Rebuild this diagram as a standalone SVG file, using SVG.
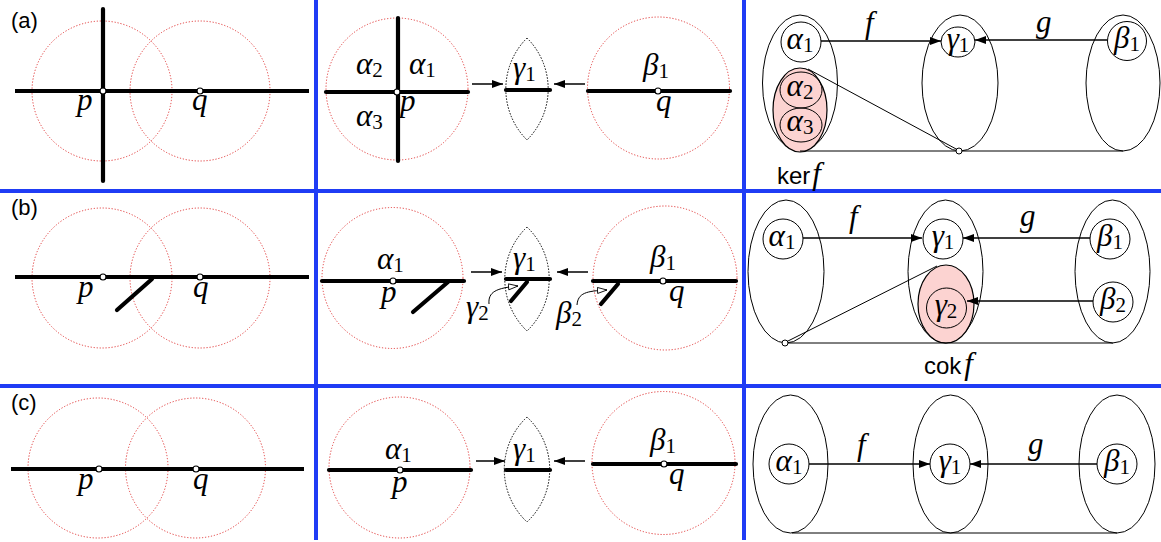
<svg xmlns="http://www.w3.org/2000/svg" width="1161" height="542" viewBox="0 0 1161 542">
<style>
.sep{stroke:#1f3cf5;stroke-width:4;fill:none}
.rc{fill:none;stroke:#e23a3a;stroke-width:1;stroke-dasharray:1.2 1.8}
.lens{fill:none;stroke:#000;stroke-width:1;stroke-dasharray:1.5 1.5}
.thick{stroke:#000;stroke-width:4.2;stroke-linecap:round;fill:none}
.pt{fill:#fff;stroke:#000;stroke-width:1.2}
.ar{stroke:#000;stroke-width:1.5;fill:none}
.thin{stroke:#000;stroke-width:1;fill:none}
.ell{fill:none;stroke:#000;stroke-width:1}
.pink{fill:#fcd3d1;stroke:#000;stroke-width:1.2}
.m{font-family:"Liberation Serif",serif;font-style:italic;font-size:31px;fill:#000}
.mr{font-family:"Liberation Serif",serif;font-style:italic;font-size:31px;fill:#000}
.s{font-style:normal;font-size:21px}
.lab{font-family:"Liberation Sans",Arial,sans-serif;font-size:22px;fill:#000}
.sans{font-family:"Liberation Sans",Arial,sans-serif;font-size:24px;fill:#000}
</style>
<defs>
<marker id="ah" markerUnits="userSpaceOnUse" markerWidth="12" markerHeight="8" refX="11" refY="4" orient="auto"><path d="M0,0 L11,4 L0,8 z" fill="#000"/></marker>
<marker id="ao" markerUnits="userSpaceOnUse" markerWidth="11" markerHeight="8" refX="10" refY="3.5" orient="auto"><path d="M0.5,0.5 L10,3.5 L0.5,6.5 z" fill="#fff" stroke="#000" stroke-width="0.9"/></marker>
</defs>

<g id="separators">
<line class="sep" x1="316" y1="0" x2="316" y2="540"/>
<line class="sep" x1="744" y1="0" x2="744" y2="540"/>
<line class="sep" x1="0" y1="191" x2="1161" y2="191"/>
<line class="sep" x1="0" y1="386" x2="1161" y2="386"/>
</g>

<!-- Row (a) -->
<g id="a-left">
<text class="lab" x="11" y="28">(a)</text>
<circle class="rc" cx="102" cy="91" r="70"/>
<circle class="rc" cx="200" cy="91" r="70"/>
<line class="thick" x1="15" y1="91" x2="309" y2="91" style="stroke-linecap:butt"/>
<line class="thick" x1="103" y1="9" x2="103" y2="181"/>
<circle class="pt" cx="103" cy="91" r="3"/>
<circle class="pt" cx="200" cy="91" r="3"/>
<text class="m" x="77" y="110">p</text>
<text class="m" x="192" y="110">q</text>
</g>

<g id="a-mid-alpha">
<circle class="rc" cx="397" cy="89" r="71"/>
<line class="thick" x1="326" y1="92" x2="468" y2="92"/>
<line class="thick" x1="398" y1="18" x2="398" y2="161"/>
<circle class="pt" cx="397" cy="92" r="3"/>
<text class="m" x="356" y="74">α<tspan class="s" dy="3">2</tspan></text>
<text class="m" x="409" y="74">α<tspan class="s" dy="3">1</tspan></text>
<text class="m" x="356" y="126">α<tspan class="s" dy="3">3</tspan></text>
<text class="m" x="400" y="111">p</text>
</g>
<g id="a-mid-gamma">
<path class="lens" d="M527,38 A72,72 0 0 0 527,140 A72,72 0 0 0 527,38 z"/>
<line class="thick" x1="506" y1="90" x2="550" y2="90"/>
<text class="m" x="513" y="78">γ<tspan class="s" dy="3">1</tspan></text>
</g>
<g id="a-mid-beta">
<circle class="rc" cx="658.5" cy="88" r="71"/>
<line class="thick" x1="588" y1="91" x2="730" y2="91"/>
<circle class="pt" cx="658" cy="91" r="3"/>
<text class="m" x="643" y="75">β<tspan class="s" dy="3">1</tspan></text>
<text class="m" x="656" y="111">q</text>
</g>

<g id="a-right-A">
<ellipse class="ell" cx="800" cy="83" rx="37.5" ry="68"/>
<circle class="ell" cx="801" cy="42" r="20"/>
<text class="mr" x="800" y="49" text-anchor="middle">α<tspan class="s" dy="3">1</tspan></text>
<ellipse class="pink" cx="800" cy="110" rx="27" ry="42"/>
<ellipse class="ell" cx="801" cy="90" rx="21" ry="18"/>
<ellipse class="ell" cx="801" cy="125" rx="21" ry="17"/>
<text class="mr" x="800" y="96" text-anchor="middle">α<tspan class="s" dy="3">2</tspan></text>
<text class="mr" x="800" y="131" text-anchor="middle">α<tspan class="s" dy="3">3</tspan></text>
<text class="sans" x="777" y="184">ker<tspan class="mr" dx="2">f</tspan></text>
</g>
<g id="a-right-C">
<ellipse class="ell" cx="960" cy="83" rx="38" ry="68"/>
<ellipse class="ell" cx="958" cy="42" rx="17" ry="15"/>
<text class="mr" x="958" y="49" text-anchor="middle">γ<tspan class="s" dy="3">1</tspan></text>
</g>
<g id="a-right-B">
<ellipse class="ell" cx="1123" cy="83" rx="37" ry="68"/>
<circle class="ell" cx="1127" cy="41" r="19.5"/>
<text class="mr" x="1127" y="48" text-anchor="middle">β<tspan class="s" dy="3">1</tspan></text>
</g>

<!-- Row (b) -->
<g id="b-left">
<text class="lab" x="11" y="215">(b)</text>
<circle class="rc" cx="102" cy="278" r="70"/>
<circle class="rc" cx="200" cy="278" r="70"/>
<line class="thick" x1="15" y1="277" x2="309" y2="277" style="stroke-linecap:butt"/>
<line class="thick" x1="152" y1="279" x2="117" y2="310"/>
<circle class="pt" cx="103" cy="277" r="3"/>
<circle class="pt" cx="200" cy="277" r="3"/>
<text class="m" x="78" y="297">p</text>
<text class="m" x="193" y="297">q</text>
</g>

<g id="b-mid-alpha">
<circle class="rc" cx="392.5" cy="278" r="70.5"/>
<line class="thick" x1="322" y1="281" x2="464" y2="281"/>
<line class="thick" x1="448" y1="282" x2="413" y2="312"/>
<circle class="pt" cx="393" cy="281" r="3"/>
<text class="m" x="377" y="269">α<tspan class="s" dy="3">1</tspan></text>
<text class="m" x="381" y="302">p</text>
</g>
<g id="b-mid-gamma">
<path class="lens" d="M527,227 A72,72 0 0 0 527,331 A72,72 0 0 0 527,227 z"/>
<line class="thick" x1="506" y1="279" x2="550" y2="279"/>
<line class="thick" x1="527" y1="282" x2="511" y2="301"/>
<text class="m" x="513" y="268">γ<tspan class="s" dy="3">1</tspan></text>
<text class="m" x="466" y="317">γ<tspan class="s" dy="3">2</tspan></text>
</g>
<g id="b-mid-beta">
<circle class="rc" cx="665" cy="278" r="72"/>
<line class="thick" x1="593" y1="281" x2="736" y2="281"/>
<line class="thick" x1="618" y1="284" x2="601" y2="304"/>
<circle class="pt" cx="663" cy="281" r="3"/>
<text class="m" x="650" y="267">β<tspan class="s" dy="3">1</tspan></text>
<text class="m" x="669" y="301">q</text>
<text class="m" x="556" y="323">β<tspan class="s" dy="3">2</tspan></text>
</g>

<g id="b-right-A">
<ellipse class="ell" cx="786" cy="271.5" rx="38" ry="71.5"/>
<circle class="ell" cx="783" cy="239" r="20"/>
<text class="mr" x="782" y="246" text-anchor="middle">α<tspan class="s" dy="3">1</tspan></text>
</g>
<g id="b-right-C">
<ellipse class="ell" cx="945.5" cy="271.5" rx="37.5" ry="71.5"/>
<circle class="ell" cx="943" cy="239" r="20"/>
<text class="mr" x="943" y="246" text-anchor="middle">γ<tspan class="s" dy="3">1</tspan></text>
<ellipse class="pink" cx="946" cy="304" rx="28" ry="39"/>
<circle class="ell" cx="946.5" cy="308" r="20"/>
<text class="mr" x="946" y="315" text-anchor="middle">γ<tspan class="s" dy="3">2</tspan></text>
<text class="sans" x="924" y="374">cok<tspan class="mr" dx="3">f</tspan></text>
</g>
<g id="b-right-B">
<ellipse class="ell" cx="1112.5" cy="271.5" rx="37.5" ry="71.5"/>
<circle class="ell" cx="1110" cy="239" r="20"/>
<text class="mr" x="1110" y="246" text-anchor="middle">β<tspan class="s" dy="3">1</tspan></text>
<circle class="ell" cx="1113" cy="302" r="20"/>
<text class="mr" x="1113" y="309" text-anchor="middle">β<tspan class="s" dy="3">2</tspan></text>
</g>

<!-- Row (c) -->
<g id="c-left">
<text class="lab" x="11" y="410">(c)</text>
<circle class="rc" cx="98" cy="468" r="70"/>
<circle class="rc" cx="195.5" cy="468" r="70"/>
<line class="thick" x1="11" y1="469" x2="304" y2="469" style="stroke-linecap:butt"/>
<circle class="pt" cx="99" cy="469" r="3"/>
<circle class="pt" cx="196" cy="469" r="3"/>
<text class="m" x="78" y="489">p</text>
<text class="m" x="193" y="489">q</text>
</g>

<g id="c-mid-alpha">
<circle class="rc" cx="399.5" cy="467.5" r="70.5"/>
<line class="thick" x1="329" y1="470" x2="471" y2="470"/>
<circle class="pt" cx="400" cy="470" r="3"/>
<text class="m" x="385" y="459">α<tspan class="s" dy="3">1</tspan></text>
<text class="m" x="392" y="492">p</text>
</g>
<g id="c-mid-gamma">
<path class="lens" d="M527,417 A72,72 0 0 0 527,522 A72,72 0 0 0 527,417 z"/>
<line class="thick" x1="506" y1="470" x2="550" y2="470"/>
<text class="m" x="513" y="459">γ<tspan class="s" dy="3">1</tspan></text>
</g>
<g id="c-mid-beta">
<circle class="rc" cx="663.5" cy="463" r="71.5"/>
<line class="thick" x1="593" y1="464" x2="736" y2="464"/>
<circle class="pt" cx="664" cy="464" r="3"/>
<text class="m" x="650" y="450">β<tspan class="s" dy="3">1</tspan></text>
<text class="m" x="669" y="484">q</text>
</g>

<g id="c-right-A">
<ellipse class="ell" cx="790.5" cy="464" rx="37.5" ry="69"/>
<circle class="ell" cx="789" cy="464" r="20"/>
<text class="mr" x="789" y="471" text-anchor="middle">α<tspan class="s" dy="3">1</tspan></text>
</g>
<g id="c-right-C">
<ellipse class="ell" cx="950.5" cy="464" rx="37.5" ry="69"/>
<circle class="ell" cx="950" cy="464" r="20"/>
<text class="mr" x="950" y="471" text-anchor="middle">γ<tspan class="s" dy="3">1</tspan></text>
</g>
<g id="c-right-B">
<ellipse class="ell" cx="1117" cy="464" rx="38" ry="69"/>
<circle class="ell" cx="1117" cy="464" r="20"/>
<text class="mr" x="1117" y="471" text-anchor="middle">β<tspan class="s" dy="3">1</tspan></text>
</g>

<g id="connectors">
<!-- row a -->
<line class="ar" x1="472" y1="84" x2="503" y2="84" marker-end="url(#ah)"/>
<line class="ar" x1="585" y1="84" x2="554" y2="84" marker-end="url(#ah)"/>
<line class="ar" x1="821" y1="41" x2="941" y2="41" marker-end="url(#ah)"/>
<line class="ar" x1="1107" y1="40" x2="975" y2="40" marker-end="url(#ah)"/>
<text class="mr" x="865" y="33">f</text>
<text class="mr" x="1036" y="32">g</text>
<line class="thin" x1="800" y1="151" x2="1123" y2="151"/>
<line class="thin" x1="808" y1="69" x2="958" y2="150"/>
<circle class="pt" cx="959" cy="151" r="3" style="stroke-width:1"/>
<!-- row b -->
<line class="ar" x1="471" y1="272" x2="502" y2="272" marker-end="url(#ah)"/>
<line class="ar" x1="588" y1="272" x2="557" y2="272" marker-end="url(#ah)"/>
<path class="thin" d="M489,304 C488,292 496,288 518,286" marker-end="url(#ao)"/>
<path class="thin" d="M577,305 C578,293 586,291 607,290" marker-end="url(#ao)"/>
<line class="ar" x1="803" y1="238" x2="922" y2="238" marker-end="url(#ah)"/>
<line class="ar" x1="1090" y1="238" x2="963" y2="238" marker-end="url(#ah)"/>
<line class="ar" x1="1093" y1="301" x2="967" y2="301" marker-end="url(#ah)"/>
<text class="mr" x="849" y="227">f</text>
<text class="mr" x="1020" y="226">g</text>
<line class="thin" x1="785" y1="343" x2="1113" y2="343"/>
<line class="thin" x1="786" y1="342" x2="937" y2="266"/>
<circle class="pt" cx="785" cy="343" r="3" style="stroke-width:1"/>
<!-- row c -->
<line class="ar" x1="476" y1="461" x2="505" y2="461" marker-end="url(#ah)"/>
<line class="ar" x1="585" y1="461" x2="554" y2="461" marker-end="url(#ah)"/>
<line class="ar" x1="809" y1="464" x2="930" y2="464" marker-end="url(#ah)"/>
<line class="ar" x1="1097" y1="464" x2="970" y2="464" marker-end="url(#ah)"/>
<text class="mr" x="857" y="455">f</text>
<text class="mr" x="1028" y="454">g</text>
<line class="thin" x1="792" y1="533" x2="1117" y2="533"/>
</g>
</svg>
